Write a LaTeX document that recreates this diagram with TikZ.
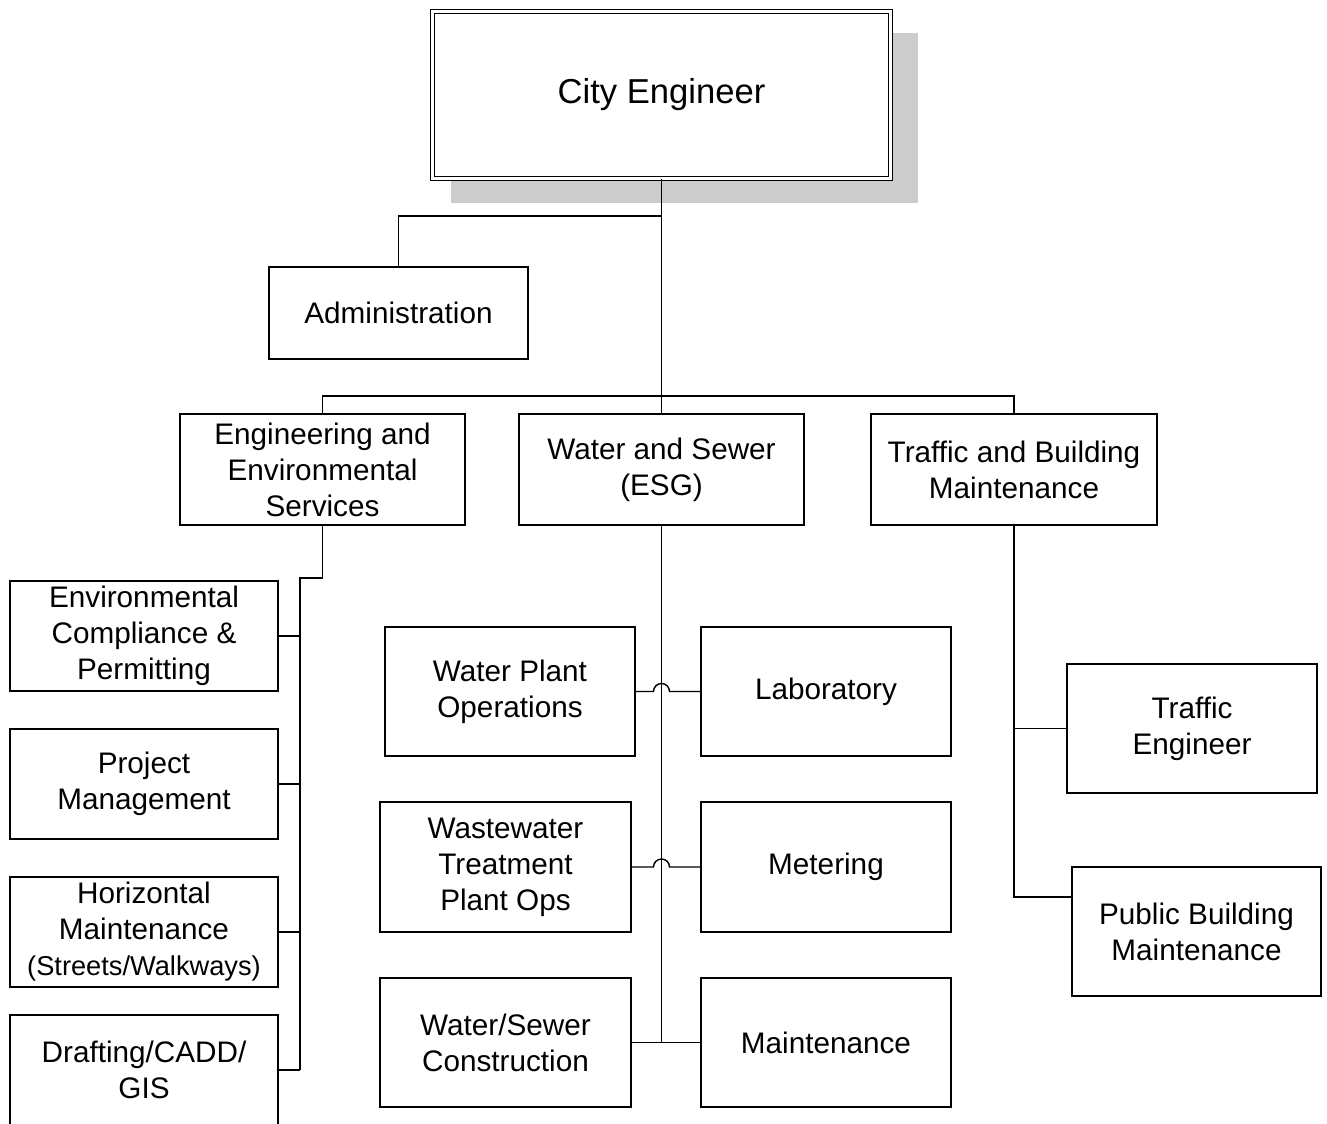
\documentclass[tikz,border=0pt]{standalone}
\usepackage{fontspec}
\setmainfont{Liberation Sans}
\usetikzlibrary{calc,shadows}

\begin{document}
\begin{tikzpicture}[
    line width=0.8pt,
    unitbox/.style={draw, fill=white, align=center, inner sep=0pt,
        font=\fontsize{16.9}{20.5}\selectfont},
    headbox/.style={draw, double, double distance=1.4pt, fill=white,
        minimum width=9.16cm, minimum height=3.34cm,
        font=\fontsize{19.7}{24}\selectfont,
        drop shadow={shadow xshift=0.45cm, shadow yshift=-0.45cm, shadow scale=1.02, fill=black!20, opacity=1}}
]
    \useasboundingbox (0,0) rectangle (26.54,-22.46);

    % Head of the department
    \node[headbox] (CE) at (13.23,-1.9) {City Engineer};
    \node[unitbox, minimum width=5.18cm, minimum height=1.84cm] (Admin) at (7.97,-6.26) {Administration};

    % Divisions
    \node[unitbox, minimum width=5.7cm, minimum height=2.22cm] (EES) at (6.45,-9.39) {Engineering and\\Environmental\\Services};
    \node[unitbox, minimum width=5.7cm, minimum height=2.22cm] (WS) at (13.23,-9.39) {Water and Sewer\\(ESG)};
    \node[unitbox, minimum width=5.72cm, minimum height=2.22cm] (TBM) at (20.28,-9.39) {Traffic and Building\\Maintenance};

    % Engineering and Environmental Services units
    \node[unitbox, minimum width=5.36cm, minimum height=2.2cm] (ECP) at (2.88,-12.72) {Environmental\\Compliance \&\\Permitting};
    \node[unitbox, minimum width=5.36cm, minimum height=2.2cm] (PM) at (2.88,-15.68) {Project\\Management};
    \node[unitbox, minimum width=5.36cm, minimum height=2.2cm] (HM) at (2.88,-18.64) {Horizontal\\Maintenance\\{\fontsize{15.5}{19}\selectfont(Streets/Walkways)}};
    \node[unitbox, minimum width=5.36cm, minimum height=2.2cm] (DCG) at (2.88,-21.4) {Drafting/CADD/\\GIS};

    % Water and Sewer units
    \node[unitbox, minimum width=5.0cm, minimum height=2.58cm] (WPO) at (10.2,-13.83) {Water Plant\\Operations};
    \node[unitbox, minimum width=5.0cm, minimum height=2.58cm] (Lab) at (16.52,-13.83) {Laboratory};
    \node[unitbox, minimum width=5.02cm, minimum height=2.6cm] (WTP) at (10.11,-17.34) {Wastewater\\Treatment\\Plant Ops};
    \node[unitbox, minimum width=5.0cm, minimum height=2.6cm] (Meter) at (16.52,-17.34) {Metering};
    \node[unitbox, minimum width=5.02cm, minimum height=2.58cm] (WSC) at (10.11,-20.85) {Water/Sewer\\Construction};
    \node[unitbox, minimum width=5.0cm, minimum height=2.58cm] (Maint) at (16.52,-20.85) {Maintenance};

    % Traffic and Building Maintenance units
    \node[unitbox, minimum width=5.0cm, minimum height=2.58cm] (TE) at (23.84,-14.57) {Traffic\\Engineer};
    \node[unitbox, minimum width=4.98cm, minimum height=2.58cm] (PBM) at (23.93,-18.63) {Public Building\\Maintenance};

    % Join points
    \coordinate (adminjoin) at (13.23,-4.32);
    \coordinate (bus) at (13.23,-7.92);
    \coordinate (eesjoin) at (6.0,-11.56);
    \coordinate (pbmhook) at (21.44,-17.94);

    % Upper lines
    \draw (CE.south) -- (WS.north);
    \draw (Admin.north) |- (adminjoin);
    \draw (EES.north) |- (bus) -| (TBM.north);

    % Engineering branch
    \draw (EES.south) |- (eesjoin) -- (eesjoin |- DCG.east);
    \draw (ECP.east) -- (ECP.east -| eesjoin);
    \draw (PM.east) -- (PM.east -| eesjoin);
    \draw (HM.east) -- (HM.east -| eesjoin);
    \draw (DCG.east) -- (DCG.east -| eesjoin);

    % Water and Sewer branch (lines hop over the trunk)
    \draw (WS.south) -- (WS.south |- WSC.east);
    \draw (WPO.east) -- ($(WPO.east -| WS.south)+(-0.16,0)$) arc[start angle=180, end angle=0, radius=0.16] -- (Lab.west);
    \draw (WTP.east) -- ($(WTP.east -| WS.south)+(-0.16,0)$) arc[start angle=180, end angle=0, radius=0.16] -- (Meter.west);
    \draw (WSC.east) -- (Maint.west);

    % Traffic branch
    \draw (TBM.south) |- (pbmhook);
    \draw (TE.west) -- (TE.west -| TBM.south);
\end{tikzpicture}
\end{document}
